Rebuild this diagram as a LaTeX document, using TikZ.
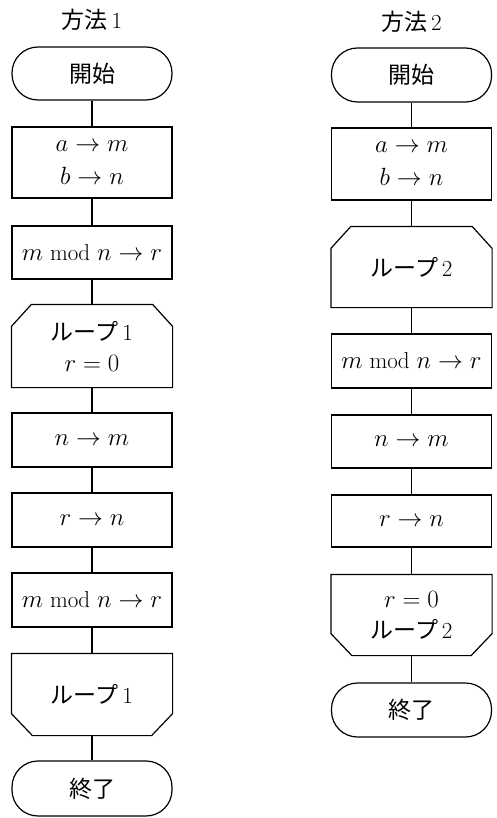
\documentclass[tikz,border=0pt]{standalone}
\usepackage{fontspec}
\newfontfamily\jp{Noto Sans CJK JP}
\newcommand\jt[1]{{\jp #1}}
\usetikzlibrary{calc}
\begin{document}
\begin{tikzpicture}[x=1pt,y=-1pt,line width=1.2pt,
  every node/.style={font=\fontsize{23}{31}\selectfont, inner sep=0pt, align=center},
  proc/.style={draw, rectangle, minimum width=160pt},
  term/.style={draw, rectangle, rounded corners=26pt, minimum width=160pt},
  loopbox/.style={rectangle, minimum width=160pt},
  conn/.style={line width=1.1pt}]
\useasboundingbox (0,0) rectangle (497,818);
% ---------- Method 1 ----------
\node (t1) at (92,20) {\jt{方法}\,1};
\node[term, minimum height=53pt] (s1) at (92,73.5) {\jt{開始}};
\node[proc, minimum height=71pt] (a1) at (92,162.5) {$a \to m$\\[2pt]$b \to n$};
\node[proc, minimum height=53pt] (m1) at (92,252.5) {$m \bmod n \to r$};
\node[loopbox, minimum height=82pt] (l1s) at (92,346) {\jt{ループ}\,1\\$r = 0$};
\node[proc, minimum height=54pt] (nm1) at (92,440) {$n \to m$};
\node[proc, minimum height=54pt] (rn1) at (92,520) {$r \to n$};
\node[proc, minimum height=54pt] (mb1) at (92,600) {$m \bmod n \to r$};
\node[loopbox, minimum height=81pt] (l1e) at (92,694.5) {\jt{ループ}\,1};
\node[term, minimum height=55pt] (e1) at (92,788.5) {\jt{終了}};
\draw (l1s.south west) -- ($(l1s.north west)+(0,22)$) -- ($(l1s.north west)+(20,0)$)
  -- ($(l1s.north east)+(-20,0)$) -- ($(l1s.north east)+(0,22)$) -- (l1s.south east) -- cycle;
\draw (l1e.north west) -- ($(l1e.south west)+(0,-22)$) -- ($(l1e.south west)+(21,0)$)
  -- ($(l1e.south east)+(-21,0)$) -- ($(l1e.south east)+(0,-22)$) -- (l1e.north east) -- cycle;
\draw[conn] (s1) -- (a1);
\draw[conn] (a1) -- (m1);
\draw[conn] (m1) -- (l1s);
\draw[conn] (l1s) -- (nm1);
\draw[conn] (nm1) -- (rn1);
\draw[conn] (rn1) -- (mb1);
\draw[conn] (mb1) -- (l1e);
\draw[conn] (l1e) -- (e1);
% ---------- Method 2 ----------
\node (t2) at (411.5,22) {\jt{方法}\,2};
\node[term, minimum height=54pt] (s2) at (411.5,75) {\jt{開始}};
\node[proc, minimum height=72pt] (a2) at (411.5,164) {$a \to m$\\[2pt]$b \to n$};
\node[loopbox, minimum height=80pt] (l2s) at (411.5,267) {\jt{ループ}\,2};
\node[proc, minimum height=54pt] (m2) at (411.5,361) {$m \bmod n \to r$};
\node[proc, minimum height=53pt] (nm2) at (411.5,441.5) {$n \to m$};
\node[proc, minimum height=52pt] (rn2) at (411.5,521) {$r \to n$};
\node[loopbox, minimum height=80pt] (l2e) at (411.5,615) {$r = 0$\\\jt{ループ}\,2};
\node[term, minimum height=54pt] (e2) at (411.5,710) {\jt{終了}};
\draw (l2s.south west) -- ($(l2s.north west)+(0,22)$) -- ($(l2s.north west)+(20,0)$)
  -- ($(l2s.north east)+(-20,0)$) -- ($(l2s.north east)+(0,22)$) -- (l2s.south east) -- cycle;
\draw (l2e.north west) -- ($(l2e.south west)+(0,-22)$) -- ($(l2e.south west)+(21,0)$)
  -- ($(l2e.south east)+(-21,0)$) -- ($(l2e.south east)+(0,-22)$) -- (l2e.north east) -- cycle;
\draw[conn] (s2) -- (a2);
\draw[conn] (a2) -- (l2s);
\draw[conn] (l2s) -- (m2);
\draw[conn] (m2) -- (nm2);
\draw[conn] (nm2) -- (rn2);
\draw[conn] (rn2) -- (l2e);
\draw[conn] (l2e) -- (e2);
\end{tikzpicture}
\end{document}
